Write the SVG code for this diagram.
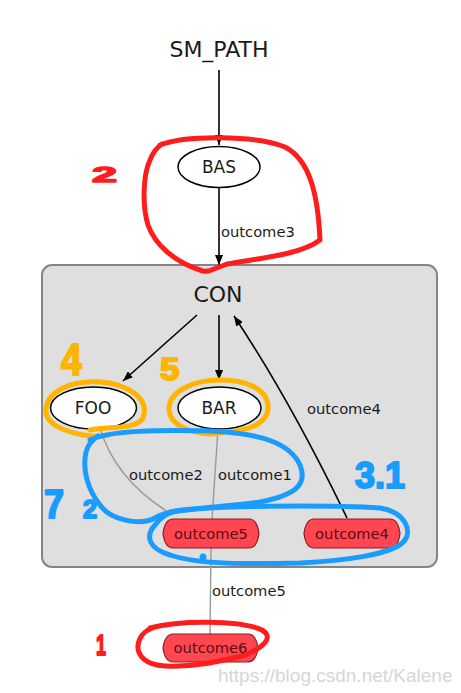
<svg xmlns="http://www.w3.org/2000/svg" width="461" height="693" viewBox="0 0 461 693">
<defs>
<style>
.lbl{font-family:"DejaVu Sans",sans-serif;fill:#1a1a1a}
.big{font-size:22px;text-anchor:middle}
.nd{font-size:17px;text-anchor:middle}
.el{font-size:14.7px}
.ol{font-size:14.7px;text-anchor:middle;fill:#5a0b10;font-family:"DejaVu Sans",sans-serif}
.blk{fill:none;stroke:#000;stroke-width:1.6}
.gry{fill:none;stroke:#999;stroke-width:1.4}
.ell{fill:#fff;stroke:#000;stroke-width:1.5}
.out{fill:#ff4651;stroke:#8e1b20;stroke-width:1.2}
.ann{fill:none;stroke-width:5;stroke-linecap:round;stroke-linejoin:round}
.hand{font-family:"Liberation Sans",sans-serif;font-weight:bold;stroke-width:2;stroke-linejoin:round}
</style>
<marker id="ah" viewBox="0 0 10 8" refX="10" refY="4" markerWidth="10" markerHeight="8" markerUnits="userSpaceOnUse" orient="auto">
<path d="M0,0 L10,4 L0,8 Z" fill="#000"/>
</marker>
</defs>
<rect id="cluster" x="42" y="265" width="395" height="302" rx="10" ry="10" fill="#dfdfdf" stroke="#858585" stroke-width="2"/>
<g id="connectors">
<line class="blk" x1="219" y1="70" x2="219" y2="145" marker-end="url(#ah)"/>
<line class="blk" x1="219" y1="188" x2="219" y2="265" marker-end="url(#ah)"/>
<line class="blk" x1="197" y1="315" x2="123" y2="381" marker-end="url(#ah)"/>
<line class="blk" x1="219" y1="315" x2="219" y2="380" marker-end="url(#ah)"/>
<path class="blk" d="M347,518 Q290,400 234,316" marker-end="url(#ah)"/>
<path class="gry" d="M100,428 C108,455 125,485 168,512"/>
<path class="gry" d="M218,429 L212,519"/>
<path class="gry" d="M211,548 L210,634"/>
<text class="lbl el" x="221" y="237">outcome3</text>
<text class="lbl el" x="307" y="414">outcome4</text>
<text class="lbl el" x="129" y="480">outcome2</text>
<text class="lbl el" x="218" y="480">outcome1</text>
<text class="lbl el" x="212" y="596">outcome5</text>
</g>
<g id="SM_PATH"><text class="lbl big" x="219" y="57">SM_PATH</text></g>
<g id="BAS"><ellipse class="ell" cx="219" cy="167" rx="41" ry="20.5"/><text class="lbl nd" x="219" y="173">BAS</text></g>
<g id="CON"><text class="lbl big" x="218" y="302">CON</text></g>
<g id="FOO"><ellipse class="ell" cx="93.5" cy="408" rx="43" ry="21"/><text class="lbl nd" x="93" y="414">FOO</text></g>
<g id="BAR"><ellipse class="ell" cx="219.5" cy="408" rx="41.5" ry="21"/><text class="lbl nd" x="219" y="414">BAR</text></g>
<g id="outcome5"><path class="out" d="M173,519 H249 C255,519 258,526 259,533.5 C258,541 255,548 249,548 H173 C167,548 164,541 163,533.5 C164,526 167,519 173,519 Z"/><text class="ol" x="211" y="538.5">outcome5</text></g>
<g id="outcome4"><path class="out" d="M314,519 H390 C396,519 399,526 400,533.5 C399,541 396,548 390,548 H314 C308,548 305,541 304,533.5 C305,526 308,519 314,519 Z"/><text class="ol" x="352" y="538.5">outcome4</text></g>
<g id="outcome6"><path class="out" d="M173,634 H248 C254,634 257,641 258,648 C257,655 254,662 248,662 H173 C167,662 164,655 163,648 C164,641 167,634 173,634 Z"/><text class="ol" x="210.5" y="653">outcome6</text></g>
<g id="annotations">
<path class="ann" stroke="#ff1c1c" d="M160,145 C185,135 255,135 285,147 C310,160 318,195 320,240 C300,255 260,258 227,264 C215,268 207,274 200,270 C175,262 155,245 148,225 C142,205 143,175 150,160 C153,152 156,148 162,144"/>
<path class="ann" stroke="#ff1c1c" d="M150,628 C180,620 240,620 262,630 C275,638 262,648 245,655 C220,662 190,667 165,666 C145,665 137,655 138,645 C139,637 143,631 155,627"/>
<path class="ann" stroke="#ffb400" d="M90,430 C110,426 135,430 143,418 C150,400 130,384 100,382 C70,380 48,392 46,408 C44,422 60,432 90,436 C100,437 105,436 108,435"/>
<path class="ann" stroke="#ffb400" d="M220,432 C245,432 270,425 268,405 C266,388 245,380 220,380 C192,380 168,392 169,410 C170,425 190,433 210,434 C218,434 222,433 225,432"/>
<path class="ann" stroke="#1a9cff" d="M90,440 C110,430 160,430 210,431 C260,433 290,443 300,465 C308,485 295,495 260,502 C220,508 170,508 155,518 C140,526 110,520 100,505 C88,490 82,470 86,452 C88,444 92,440 98,436"/>
<path class="ann" stroke="#1a9cff" d="M170,512 C200,505 330,505 380,508 C405,512 412,530 405,540 C395,555 340,561 300,563 C250,564 200,565 170,555 C150,549 144,537 155,525 C160,518 166,514 175,511"/>
<circle cx="203" cy="557" r="3.5" fill="#1a9cff"/>
<text class="hand" fill="#ff1c1c" stroke="#ff1c1c" font-size="30" transform="translate(92,182) scale(1.5,0.75)">2</text>
<text class="hand" fill="#ffb400" stroke="#ffb400" font-size="44" transform="translate(61,375) scale(0.85,1)">4</text>
<text class="hand" fill="#ffb400" stroke="#ffb400" font-size="32" transform="translate(160,380) scale(1.1,1)">5</text>
<text class="hand" fill="#1a9cff" stroke="#1a9cff" font-size="36" x="355" y="488">3.1</text>
<text class="hand" fill="#1a9cff" stroke="#1a9cff" font-size="40" transform="translate(44,518) scale(0.9,1)">7</text>
<text class="hand" fill="#1a9cff" stroke="#1a9cff" font-size="25" x="83" y="518">2</text>
<text class="hand" fill="#ff1c1c" stroke="#ff1c1c" font-size="30" transform="translate(96,655) scale(0.6,1)">1</text>
</g>
<text x="218" y="682" font-family="Liberation Sans, sans-serif" font-size="19" fill="#d6d6d6">https://blog.csdn.net/Kalene</text>
</svg>
